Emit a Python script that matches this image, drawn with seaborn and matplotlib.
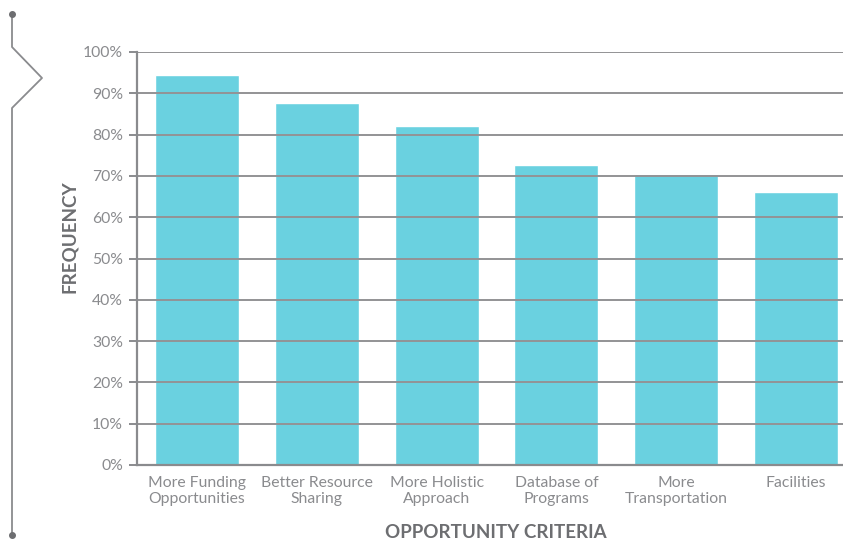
import matplotlib
matplotlib.use("Agg")
import matplotlib.pyplot as plt
from matplotlib.lines import Line2D
from matplotlib.ticker import FixedLocator, PercentFormatter
import pandas as pd
import seaborn as sns

# data
criteria = ["More Funding\nOpportunities", "Better Resource\nSharing", "More Holistic\nApproach",
            "Database of\nPrograms", "More\nTransportation", "Facilities"]
frequency = [94.4, 87.6, 82.1, 72.6, 70.5, 66.1]
y_ticks = list(range(0, 101, 10))

BAR = "#6AD1E0"
TEXT = "#8a8b8e"
LABEL = "#6d6e71"
AXIS = "#8a8b8e"

sns.set_theme(style="white")
plt.rcParams["font.family"] = ["Lato", "DejaVu Sans"]

df = pd.DataFrame({"criteria": criteria, "frequency": frequency})

fig = plt.figure(figsize=(8.43, 5.39), dpi=100)
ax = fig.add_axes([137 / 843, 74 / 539, 719 / 843, 413 / 539])

ax.set_axisbelow(False)
sns.barplot(data=df, x="criteria", y="frequency", color=BAR, saturation=1,
            width=0.7, ax=ax, zorder=1)

ax.set_ylim(0, 100)
ax.set_xlim(-0.5, len(criteria) - 0.5)
ax.set_yticks(y_ticks)
ax.yaxis.set_major_formatter(PercentFormatter(decimals=0))
for y in y_ticks[1:]:
    ax.axhline(y, color="#939395", lw=1.4, zorder=2)

# ticks between categories
ax.xaxis.set_minor_locator(FixedLocator([i + 0.5 for i in range(-1, len(criteria))]))
ax.tick_params(axis="x", which="major", length=0, pad=8, labelsize=11.3, labelcolor=TEXT)
ax.tick_params(axis="x", which="minor", length=5, width=1.4, color=AXIS, direction="out")
ax.tick_params(axis="y", which="major", length=6, width=1.4, color=AXIS, pad=4,
               labelsize=11.3, labelcolor=TEXT, left=True)

for s in ["top", "right"]:
    ax.spines[s].set_visible(False)
for s in ["left", "bottom"]:
    ax.spines[s].set_color(AXIS)
    ax.spines[s].set_linewidth(1.6)

ax.set_xlabel("OPPORTUNITY CRITERIA", fontsize=13.5, fontweight="bold", color=LABEL)
ax.xaxis.set_label_coords(496 / 719 - 137 / 719 + 0.0, -0.142)
ax.set_ylabel("FREQUENCY", fontsize=13.5, fontweight="bold", color=LABEL)
ax.yaxis.set_label_coords(-0.082, 0.552)

# decorative bracket on the left edge
W, H = 843, 539
xs = [12, 12, 42, 12, 12]
ys = [14, 47, 78, 108, 535]
fig.add_artist(Line2D([x / W for x in xs], [1 - y / H for y in ys],
                      color=AXIS, lw=1.3, transform=fig.transFigure))
fig.add_artist(Line2D([12 / W, 12 / W], [1 - 14 / H, 1 - 535 / H], ls="none",
                      marker="o", ms=4, color="#6d6e71", transform=fig.transFigure))

fig.savefig("out.png", dpi=100)
